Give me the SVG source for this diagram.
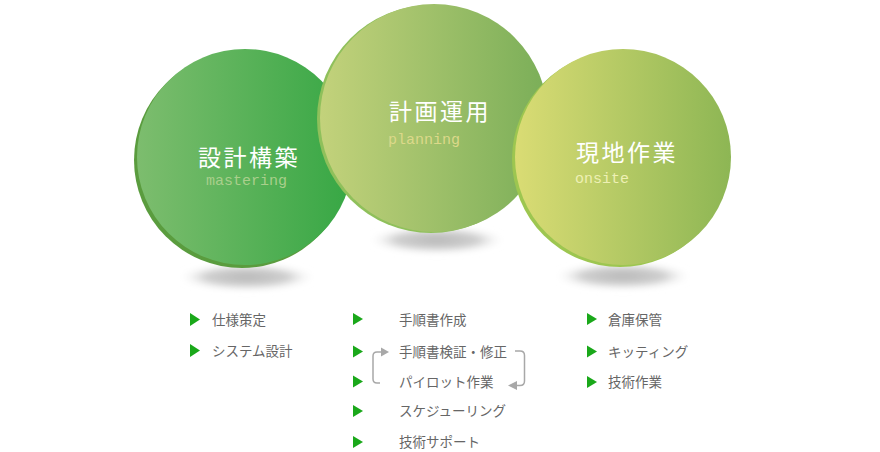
<svg xmlns="http://www.w3.org/2000/svg" width="880" height="452" viewBox="0 0 880 452">
<style>
.title{font-family:"Noto Sans CJK JP","Noto Sans",sans-serif;font-size:23px;fill:#ffffff;letter-spacing:2.5px}
.sub{font-family:"Liberation Mono","DejaVu Sans Mono",monospace;font-size:15px}
.item{font-family:"Noto Sans CJK JP","Noto Sans",sans-serif;font-size:13.5px;fill:#666666}
.tri{fill:#1aa81a}
.loop{fill:none;stroke:#a8a8a8;stroke-width:1.5}
.head{fill:#a8a8a8}
.shadow{fill:url(#sh)}
</style>
<defs>
<linearGradient id="g1" x1="0" y1="0" x2="1" y2="0">
<stop offset="0" stop-color="#7dbd6e"/><stop offset="1" stop-color="#36a744"/>
</linearGradient>
<linearGradient id="g2" x1="0" y1="0" x2="1" y2="0">
<stop offset="0" stop-color="#c3d27b"/><stop offset="1" stop-color="#7aae58"/>
</linearGradient>
<linearGradient id="g3" x1="0" y1="0" x2="1" y2="0">
<stop offset="0" stop-color="#dadc74"/><stop offset="1" stop-color="#8db654"/>
</linearGradient>
<radialGradient id="sh" cx="0.5" cy="0.5" r="0.5">
<stop offset="0" stop-color="#b8b8b8"/><stop offset="0.6" stop-color="#cfcfcf"/><stop offset="1" stop-color="#ffffff" stop-opacity="0"/>
</radialGradient>
<filter id="blur" x="-20%" y="-50%" width="140%" height="200%"><feGaussianBlur stdDeviation="3"/></filter>
</defs>

<g id="shadows" filter="url(#blur)">
<ellipse class="shadow" cx="247" cy="277" rx="70" ry="14"/>
<ellipse class="shadow" cx="437" cy="240" rx="70" ry="14"/>
<ellipse class="shadow" cx="623" cy="276" rx="70" ry="14"/>
</g>

<g id="node-mastering">
<circle cx="242" cy="160" r="108" fill="#5a9c3e"/>
<circle cx="245" cy="157" r="108" fill="url(#g1)"/>
<text class="title" x="198" y="166">設計構築</text>
<text class="sub" x="206" y="185" fill="#a9cf8c">mastering</text>
</g>

<g id="node-planning">
<circle cx="431" cy="119" r="114" fill="#8fc05b"/>
<circle cx="434" cy="118" r="114" fill="url(#g2)"/>
<text class="title" x="389" y="120">計画運用</text>
<text class="sub" x="388" y="143.5" fill="#dcd98a">planning</text>
</g>

<g id="node-onsite">
<circle cx="620" cy="159" r="108" fill="#9dc650"/>
<circle cx="623" cy="157" r="108" fill="url(#g3)"/>
<text class="title" x="576" y="161">現地作業</text>
<text class="sub" x="575" y="182.5" fill="#eef0b4">onsite</text>
</g>

<g id="list-mastering">
<polygon class="tri" points="190,313 200,319.5 190,326"/>
<text class="item" x="212" y="325">仕様策定</text>
<polygon class="tri" points="190,344 200,350.5 190,357"/>
<text class="item" x="212" y="356">システム設計</text>
</g>

<g id="list-planning">
<polygon class="tri" points="353,313 363,319 353,325"/>
<text class="item" x="399" y="325">手順書作成</text>
<polygon class="tri" points="353,345.5 363,351.5 353,357.5"/>
<text class="item" x="399" y="357">手順書検証・修正</text>
<polygon class="tri" points="353,375.5 363,381.5 353,387.5"/>
<text class="item" x="399" y="387">パイロット作業</text>
<polygon class="tri" points="353,405 363,411 353,417"/>
<text class="item" x="399" y="416">スケジューリング</text>
<polygon class="tri" points="353,436 363,442 353,448"/>
<text class="item" x="399" y="447">技術サポート</text>
</g>

<g id="list-onsite">
<polygon class="tri" points="587,313 597,319 587,325"/>
<text class="item" x="608" y="325">倉庫保管</text>
<polygon class="tri" points="587,345.5 597,351.5 587,357.5"/>
<text class="item" x="608" y="357">キッティング</text>
<polygon class="tri" points="587,376 597,382 587,388"/>
<text class="item" x="608" y="387">技術作業</text>
</g>

<g id="connectors">
<path class="loop" d="M381,352 H377 Q373,352 373,356 V379 Q373,383 377,383 H380"/>
<polygon class="head" points="381,347.5 389,352 381,356.5"/>
<path class="loop" d="M515,351 H520 Q524.5,351 524.5,355.5 V381 Q524.5,385.5 520,385.5 H516"/>
<polygon class="head" points="517,381 508,385.5 517,390"/>
</g>
</svg>
